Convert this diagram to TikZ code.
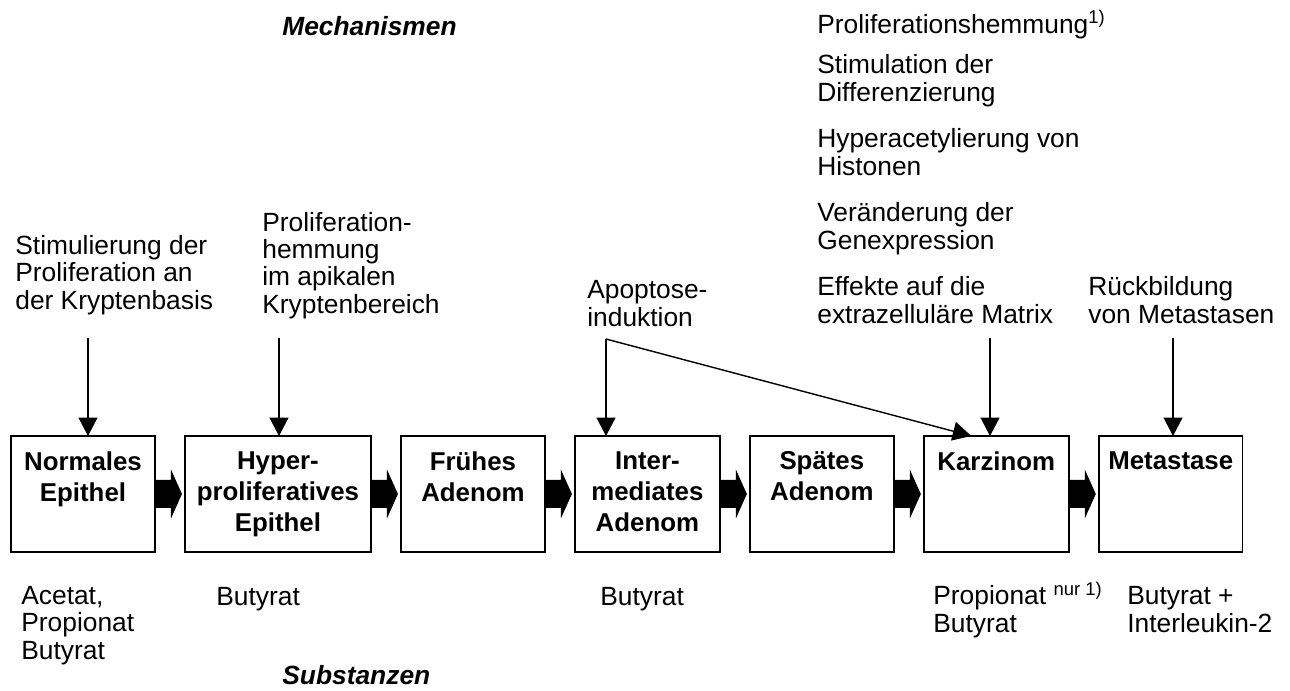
\documentclass[tikz,border=0pt]{standalone}
\usepackage{fontspec}
\setmainfont{Liberation Sans}
\usetikzlibrary{arrows.meta,positioning,calc}

\tikzset{
  stage/.style={draw,line width=0.8pt,outer sep=0pt,inner sep=0pt,
    minimum height=2.32cm,anchor=north west},
  stagetext/.style={align=center,inner sep=0pt,anchor=north,yshift=-0.31cm,
    font=\bfseries\fontsize{14.7}{17.6}\selectfont},
  lbl/.style={align=left,inner sep=0pt,anchor=base west,
    font=\fontsize{15}{15.4}\selectfont},
  heading/.style={inner sep=0pt,anchor=base west,
    font=\bfseries\itshape\fontsize{15}{18}\selectfont},
  pfeil/.style={line width=0.8pt,-{Triangle[length=0.37cm,width=0.38cm]}}
}

% dicker Pfeil zwischen zwei Stufen
\newcommand{\fatarrow}[2]{%
  \fill ($(#1.east)+(0,-14)$) -- ($(#2.west)+(-14,-14)$)
    -- ($(#2.west)+(-14,-24.5)$) -- ($(#2.west)+(-3,0)$)
    -- ($(#2.west)+(-14,24.5)$) -- ($(#2.west)+(-14,14)$)
    -- ($(#1.east)+(0,14)$) -- cycle;}

\begin{document}
\begin{tikzpicture}[x=0.02cm,y=-0.02cm]
  \useasboundingbox (0,0) rectangle (1290,690);

  % Stufen
  \node[stage,minimum width=2.88cm] (n1) at (11,436) {};
  \node[stage,minimum width=3.72cm,right=0.6cm of n1] (n2) {};
  \node[stage,minimum width=2.88cm,right=0.6cm of n2] (n3) {};
  \node[stage,minimum width=2.9cm,right=0.6cm of n3] (n4) {};
  \node[stage,minimum width=2.88cm,right=0.6cm of n4] (n5) {};
  \node[stage,minimum width=2.9cm,right=0.6cm of n5] (n6) {};
  \node[stage,minimum width=2.88cm,right=0.6cm of n6] (n7) {};

  \node[stagetext] (b1) at (n1.north) {Normales\\Epithel};
  \node[stagetext] (b2) at (n2.north) {Hyper-\\proliferatives\\Epithel};
  \node[stagetext] (b3) at (n3.north) {Frühes\\Adenom};
  \node[stagetext] (b4) at (n4.north) {Inter-\\mediates\\Adenom};
  \node[stagetext] (b5) at (n5.north) {Spätes\\Adenom};
  \node[stagetext] (b6) at (n6.north) {Karzinom};
  \node[stagetext] (b7) at (n7.north) {Metastase};

  \fatarrow{n1}{n2}
  \fatarrow{n2}{n3}
  \fatarrow{n3}{n4}
  \fatarrow{n4}{n5}
  \fatarrow{n5}{n6}
  \fatarrow{n6}{n7}

  % Mechanismen (Position = letzte Grundlinie)
  \node[heading] (mech) at (282,35) {Mechanismen};
  \node[lbl] (t1) at (15,309) {Stimulierung der\\Proliferation an\\der Kryptenbasis};
  \node[lbl] (t2) at (262,313) {Proliferation-\\hemmung\\im apikalen\\Kryptenbereich};
  \node[lbl] (t4) at (587,326) {Apoptose-\\induktion};
  \node[lbl] (t6a) at (817,33) {Proliferationshemmung\textsuperscript{1)}};
  \node[lbl] (t6b) at (817,101) {Stimulation der\\Differenzierung};
  \node[lbl] (t6c) at (817,175) {Hyperacetylierung von\\Histonen};
  \node[lbl] (t6d) at (817,249) {Veränderung der\\Genexpression};
  \node[lbl] (t6e) at (817,323) {Effekte auf die\\extrazelluläre Matrix};
  \node[lbl] (t7) at (1088,323) {Rückbildung\\von Metastasen};

  \coordinate (m1) at (88,338);
  \coordinate (m2) at (279,338);
  \coordinate (apo) at (606,339);
  \coordinate (m6) at (990,338);
  \coordinate (m7) at (1173,338);
  \draw[pfeil] (m1) -- (m1 |- n1.north);
  \draw[pfeil] (m2) -- (m2 |- n2.north);
  \draw[pfeil] (apo) -- (apo |- n4.north);
  \draw[pfeil] (apo) -- ([xshift=-0.5cm]n6.north);
  \draw[pfeil] (m6) -- (m6 |- n6.north);
  \draw[pfeil] (m7) -- (m7 |- n7.north);

  % Substanzen
  \node[lbl] (s1) at (21,659) {Acetat,\\Propionat\\Butyrat};
  \node[lbl] (s2) at (216,605) {Butyrat};
  \node[lbl] (s4) at (600,605) {Butyrat};
  \node[lbl] (s6) at (933,632) {Propionat \textsuperscript{nur 1)}\\Butyrat};
  \node[lbl] (s7) at (1127,632) {Butyrat +\\Interleukin-2};
  \node[heading] (subst) at (282,684) {Substanzen};
\end{tikzpicture}
\end{document}
